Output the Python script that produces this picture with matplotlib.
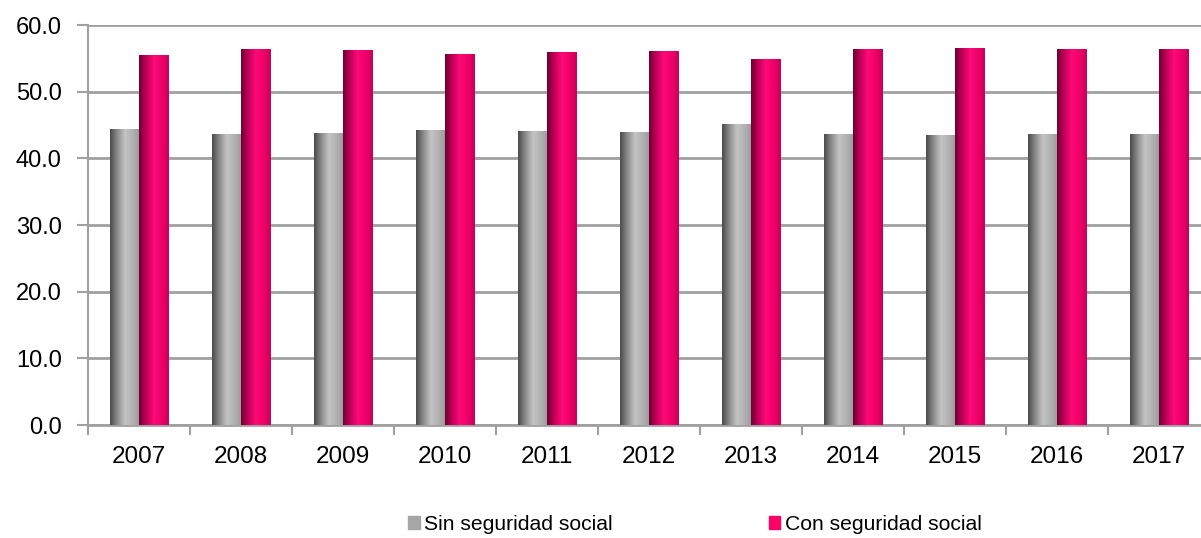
import numpy as np
import matplotlib.pyplot as plt
from matplotlib.colors import LinearSegmentedColormap

plt.rcParams['font.family'] = ['Liberation Sans', 'DejaVu Sans']

years = ['2007', '2008', '2009', '2010', '2011', '2012', '2013', '2014', '2015', '2016', '2017']
sin_seguridad = [44.4, 43.6, 43.8, 44.2, 44.1, 43.9, 45.1, 43.6, 43.5, 43.6, 43.6]
con_seguridad = [55.5, 56.4, 56.2, 55.6, 55.9, 56.1, 54.9, 56.4, 56.5, 56.4, 56.4]

# cylinder-like shading for each series
grey_cmap = LinearSegmentedColormap.from_list(
    'grey_cyl', ['#4a4a4a', '#8c8c8c', '#c4c4c4', '#b2b2b2', '#9a9a9a'])
pink_cmap = LinearSegmentedColormap.from_list(
    'pink_cyl', ['#6e0030', '#c4005a', '#ff0a78', '#f00068', '#c8005a'])


def shade_bars(ax, bars, cmap):
    grad = np.linspace(0, 1, 256).reshape(1, -1)
    for b in bars:
        x0, y0 = b.get_x(), b.get_y()
        w, h = b.get_width(), b.get_height()
        im = ax.imshow(grad, extent=[x0, x0 + w, y0, y0 + h], aspect='auto',
                       cmap=cmap, zorder=b.get_zorder(), interpolation='bicubic')
        im.set_clip_path(b)
        b.set_facecolor('none')


fig = plt.figure(figsize=(12.01, 5.38), dpi=100)
ax = fig.add_axes([0.0733, 0.210, 0.934, 0.7435])

x = np.arange(len(years))
w = 0.285
b1 = ax.bar(x - w / 2, sin_seguridad, w, color='#a6a6a6', linewidth=0, zorder=3)
b2 = ax.bar(x + w / 2, con_seguridad, w, color='#ff0066', linewidth=0, zorder=3)
shade_bars(ax, b1, grey_cmap)
shade_bars(ax, b2, pink_cmap)

ax.set_xlim(-0.5, len(years) - 0.5)
ax.set_ylim(0, 60)
ax.set_yticks(np.arange(0, 61, 10))
ax.set_yticklabels([f'{v:.1f}' for v in np.arange(0, 61, 10)], fontsize=17)
ax.yaxis.grid(True, color='#a0a0a0', linewidth=2, zorder=0)
ax.set_axisbelow(True)

ax.set_xticks(x)
ax.set_xticklabels(years, fontsize=17.5)
ax.set_xticks(np.arange(-0.5, len(years)), minor=True)
ax.tick_params(axis='x', which='major', length=0, pad=15)
ax.tick_params(axis='x', which='minor', length=7, color='#a0a0a0', width=1.5)
ax.tick_params(axis='y', length=8, color='#a0a0a0', width=1.5, pad=11)

for side in ['top', 'right']:
    ax.spines[side].set_visible(False)
ax.spines['left'].set_color('#a0a0a0')
ax.spines['left'].set_linewidth(1.5)
ax.spines['bottom'].set_color('#a0a0a0')
ax.spines['bottom'].set_linewidth(2)

handles = [plt.Rectangle((0, 0), 1, 1, color='#a6a6a6'),
           plt.Rectangle((0, 0), 1, 1, color='#ff0066')]
fig.legend(handles, ['Sin seguridad social', 'Con seguridad social'],
           loc='lower left', bbox_to_anchor=(0.324, -0.028), ncol=2, frameon=False,
           fontsize=15.2, handlelength=0.55, handleheight=0.55, handletextpad=0.2,
           columnspacing=7.4)

fig.savefig('out.png', dpi=100)
